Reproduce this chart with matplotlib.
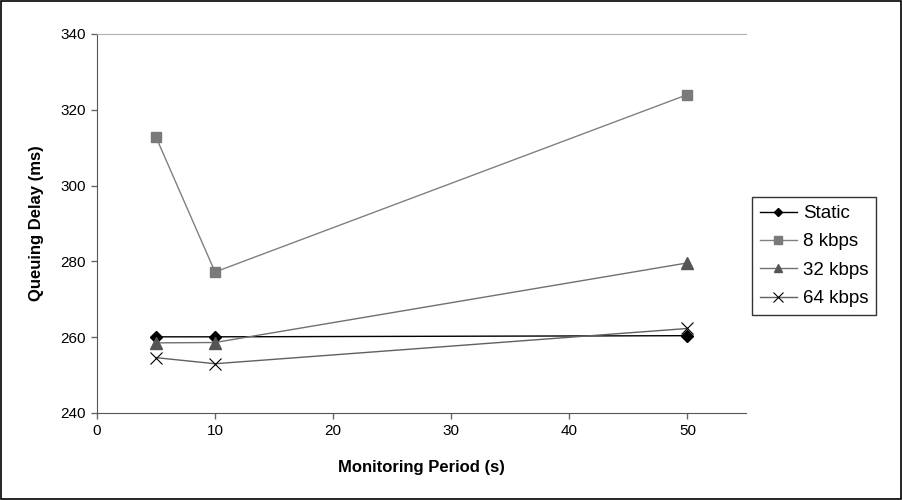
import matplotlib.pyplot as plt
from matplotlib.patches import Rectangle

plt.rcParams['font.family'] = ['Liberation Sans', 'DejaVu Sans']

period = [5, 10, 50]
static = [260.1, 260.1, 260.4]
kbps8 = [312.8, 277.2, 324.0]
kbps32 = [258.5, 258.6, 279.6]
kbps64 = [254.6, 253.0, 262.3]
labels = ['Static', '8 kbps', '32 kbps', '64 kbps']

fig = plt.figure(figsize=(9.02, 5), dpi=100)
fig.patches.append(Rectangle((0.001, 0.002), 0.998, 0.996, transform=fig.transFigure,
                             fill=False, edgecolor='black', linewidth=1.2))
ax = fig.add_axes([0.1075, 0.174, 0.72, 0.758])

ax.plot(period, static, color='black', lw=1, marker='D', ms=6, mfc='black', mec='black', label=labels[0])
ax.plot(period, kbps8, color='#808080', lw=1, marker='s', ms=7, mfc='#7a7a7a', mec='#7a7a7a', label=labels[1])
ax.plot(period, kbps32, color='#707070', lw=1, marker='^', ms=8, mfc='#555555', mec='#555555', label=labels[2])
ax.plot(period, kbps64, color='#606060', lw=1, marker='x', ms=9, mew=0.8, mfc='black', mec='black', label=labels[3])

ax.set_xlim(0, 55)
ax.set_ylim(240, 340)
ax.set_xticks(range(0, 60, 10))
ax.set_yticks(range(240, 360, 20))
ax.tick_params(direction='out', length=4, width=1, color='#666666', labelsize=11, pad=4)

ax.spines['right'].set_visible(False)
ax.spines['top'].set_color('#b0b0b0')
ax.spines['left'].set_color('#555555')
ax.spines['bottom'].set_color('#555555')

ax.set_xlabel('Monitoring Period (s)', fontsize=12, fontweight='bold', labelpad=16)
ax.set_ylabel('Queuing Delay (ms)', fontsize=12, fontweight='bold', labelpad=12)

leg = ax.legend(loc='center left', bbox_to_anchor=(1.009, 0.414), frameon=True, fancybox=False,
                edgecolor='black', fontsize=13.5, handlelength=2.0, borderpad=0.4, labelspacing=0.6,
                handletextpad=0.3, markerscale=0.75, borderaxespad=0)
leg.get_frame().set_linewidth(1)

fig.savefig('out.png', dpi=100)
